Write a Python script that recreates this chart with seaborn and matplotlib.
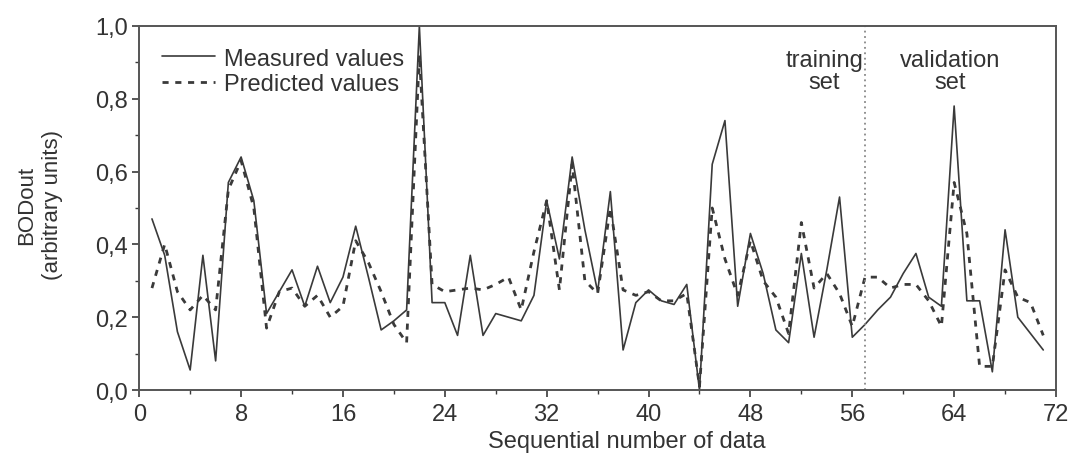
import numpy as np
import pandas as pd
import matplotlib
matplotlib.use('Agg')
import matplotlib.pyplot as plt
from matplotlib.ticker import FuncFormatter, MultipleLocator
import seaborn as sns

# data (sample 1..71)
sample = list(range(1, 72))
measured = [0.47, 0.37, 0.16, 0.055, 0.37, 0.08, 0.57, 0.64, 0.52, 0.21,
            0.27, 0.33, 0.23, 0.34, 0.24, 0.31, 0.45, 0.31, 0.165, 0.19,
            0.22, 1.0, 0.24, 0.24, 0.15, 0.37, 0.15, 0.21, 0.20, 0.19,
            0.26, 0.52, 0.36, 0.64, 0.44, 0.27, 0.545, 0.11, 0.24, 0.275,
            0.245, 0.235, 0.29, 0.0, 0.62, 0.74, 0.23, 0.43, 0.32, 0.165,
            0.13, 0.375, 0.145, 0.33, 0.53, 0.145, 0.18, 0.22, 0.255, 0.32,
            0.375, 0.255, 0.23, 0.78, 0.245, 0.245, 0.05, 0.44, 0.20, 0.155,
            0.11]
predicted = [0.28, 0.40, 0.27, 0.22, 0.26, 0.22, 0.55, 0.63, 0.50, 0.17,
             0.27, 0.28, 0.23, 0.26, 0.20, 0.23, 0.41, 0.35, 0.27, 0.18,
             0.13, 0.92, 0.29, 0.27, 0.275, 0.28, 0.275, 0.29, 0.31, 0.22,
             0.38, 0.52, 0.275, 0.62, 0.30, 0.265, 0.50, 0.275, 0.26, 0.27,
             0.245, 0.245, 0.265, 0.01, 0.50, 0.36, 0.26, 0.41, 0.30, 0.255,
             0.155, 0.46, 0.28, 0.32, 0.265, 0.175, 0.31, 0.31, 0.28, 0.29,
             0.29, 0.245, 0.175, 0.57, 0.43, 0.065, 0.065, 0.33, 0.255, 0.24,
             0.15]

split_at = 57

sns.set_style('ticks')
plt.rcParams['font.family'] = ['Liberation Sans', 'DejaVu Sans']

df = pd.DataFrame({'n': sample, 'Measured values': measured, 'Predicted values': predicted})

fig = plt.figure(figsize=(10.71, 4.56), dpi=100)
ax = fig.add_axes([0.130, 0.1425, 0.856, 0.7985])

col = '#3a3a3a'
txt = '#333333'
sns.lineplot(data=df, x='n', y='Measured values', ax=ax, color=col, lw=1.2,
             label='Measured values')
sns.lineplot(data=df, x='n', y='Predicted values', ax=ax, color=col, lw=2.0,
             linestyle=(0, (2.2, 2.4)), label='Predicted values')

ax.axvline(split_at, color='#888888', lw=1.3, linestyle=(0, (1, 2)))
ax.text(53.8, 0.875, 'training\nset', ha='center', va='center', fontsize=17,
        color=txt, linespacing=1.0)
ax.text(63.7, 0.875, 'validation\nset', ha='center', va='center', fontsize=17,
        color=txt, linespacing=1.0)

ax.set_xlim(0, 72)
ax.set_ylim(0, 1.0)
ax.xaxis.set_major_locator(MultipleLocator(8))
ax.xaxis.set_minor_locator(MultipleLocator(4))
ax.yaxis.set_major_locator(MultipleLocator(0.2))
ax.yaxis.set_minor_locator(MultipleLocator(0.1))
ax.yaxis.set_major_formatter(FuncFormatter(lambda v, p: f'{v:.1f}'.replace('.', ',')))

ax.tick_params(which='major', direction='out', length=5, width=1.2, colors=col,
               labelsize=17, labelcolor=txt)
ax.tick_params(axis='x', which='major', pad=4)
ax.tick_params(axis='y', which='major', pad=3)
ax.tick_params(which='minor', direction='out', length=3, width=1.0, colors=col)
for s in ax.spines.values():
    s.set_visible(True)
    s.set_color('#555555')
    s.set_linewidth(1.4)

ax.set_xlabel('Sequential number of data', fontsize=17, color=txt)
ax.xaxis.set_label_coords((627 - 139) / 917, -(442 - 391) / 364)
ax.xaxis.label.set_va('center')
ax.set_ylabel('BODout\n(arbitrary units)', fontsize=16, color=txt, linespacing=1.3)
ax.yaxis.set_label_coords(-(139 - 63) / 917, 0.51)

leg = ax.legend(loc='upper left', bbox_to_anchor=((162 - 139) / 917, 0.94), frameon=False,
                fontsize=17, handlelength=2.25, handletextpad=0.35, labelspacing=0.15,
                borderaxespad=0, borderpad=0)
for t in leg.get_texts():
    t.set_color(txt)

fig.savefig('out.png', dpi=100)
